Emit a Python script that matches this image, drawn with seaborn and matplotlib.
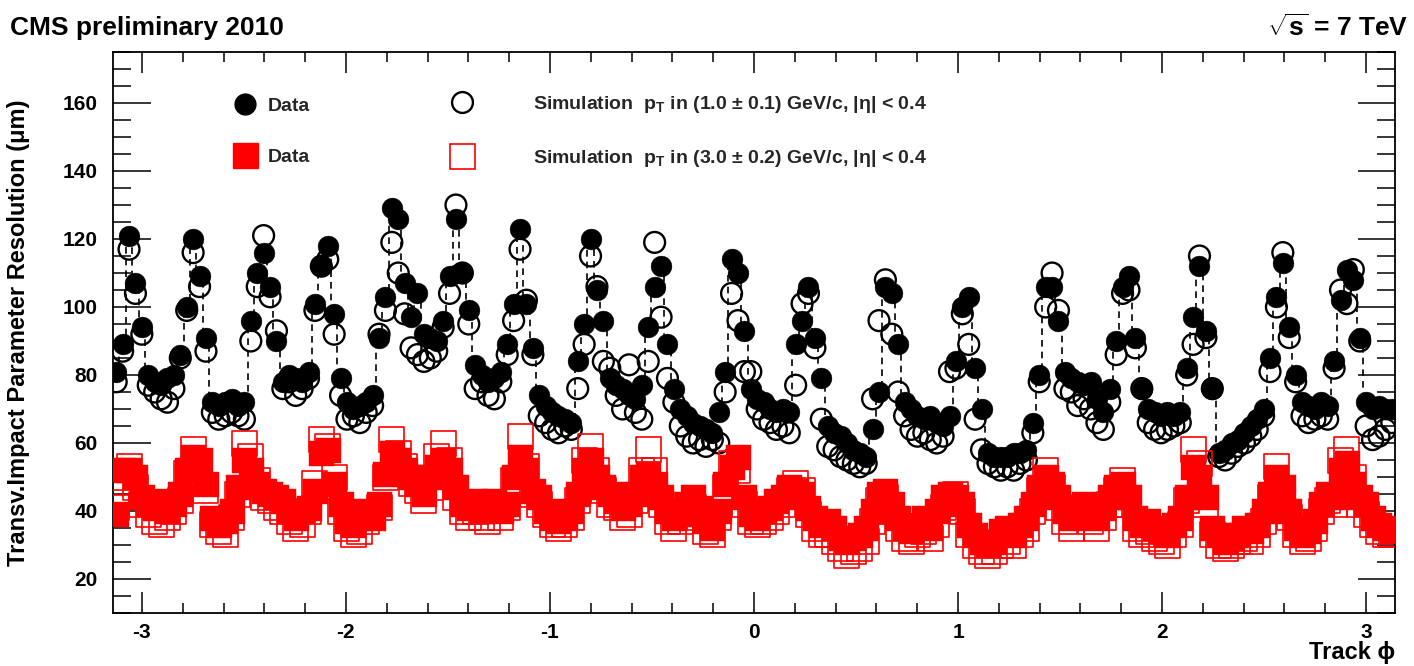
import numpy as np
import pandas as pd
import matplotlib
matplotlib.use("Agg")
import matplotlib.pyplot as plt
import seaborn as sns
from matplotlib.lines import Line2D
from matplotlib.ticker import MultipleLocator

# Transverse impact parameter resolution (um) in 200 bins of track phi
res_data_pt1 = [
    81, 89, 121, 107, 94, 80, 78, 77, 79, 80,
    86, 100, 120, 109, 91, 72, 71, 72, 73, 71,
    72, 96, 110, 116, 106, 90, 78, 80, 79, 78,
    81, 101, 112, 118, 98, 79, 72, 70, 71, 72,
    74, 91, 103, 129, 126, 107, 97, 104, 92, 91,
    90, 96, 109, 126, 110, 99, 83, 80, 78, 79,
    81, 89, 101, 123, 101, 88, 74, 71, 69, 68,
    67, 66, 84, 95, 120, 105, 96, 79, 77, 76,
    74, 73, 77, 94, 106, 112, 89, 76, 70, 68,
    66, 65, 64, 63, 69, 81, 114, 110, 93, 76,
    73, 72, 70, 69, 70, 69, 89, 96, 106, 91,
    79, 65, 63, 62, 60, 58, 57, 56, 64, 75,
    106, 104, 89, 72, 70, 68, 67, 68, 66, 65,
    68, 84, 100, 103, 82, 70, 57, 56, 56, 56,
    57, 57, 58, 66, 80, 106, 106, 96, 81, 79,
    78, 77, 78, 73, 69, 76, 90, 106, 109, 91,
    76, 70, 69, 68, 69, 68, 69, 82, 97, 112,
    93, 76, 57, 58, 60, 61, 63, 65, 67, 70,
    85, 103, 113, 94, 80, 72, 71, 70, 72, 71,
    84, 102, 111, 108, 91, 72, 70, 71, 70, 70,
]

res_sim_pt1 = [
    78, 87, 117, 104, 92, 77, 75, 73, 72, 76,
    85, 99, 116, 106, 87, 69, 67, 68, 69, 68,
    67, 90, 106, 121, 103, 93, 76, 78, 74, 76,
    79, 99, 112, 114, 92, 74, 67, 68, 66, 69,
    71, 92, 99, 119, 110, 98, 88, 86, 84, 85,
    87, 94, 104, 130, 110, 95, 76, 78, 74, 73,
    78, 86, 96, 117, 102, 86, 68, 66, 64, 63,
    65, 64, 76, 89, 115, 106, 84, 82, 74, 70,
    83, 69, 67, 84, 119, 97, 79, 72, 65, 62,
    60, 61, 59, 61, 60, 75, 104, 96, 81, 81,
    70, 67, 66, 64, 65, 63, 77, 101, 104, 88,
    67, 59, 58, 56, 55, 54, 53, 54, 73, 96,
    108, 92, 75, 68, 64, 62, 63, 61, 60, 62,
    81, 82, 98, 89, 67, 58, 54, 53, 52, 53,
    52, 54, 55, 63, 78, 100, 110, 99, 76, 75,
    71, 73, 70, 66, 64, 72, 86, 104, 105, 88,
    76, 66, 64, 63, 64, 65, 66, 80, 89, 115,
    91, 76, 56, 55, 57, 59, 60, 62, 64, 68,
    81, 100, 116, 91, 78, 68, 66, 67, 68, 67,
    82, 105, 101, 111, 90, 65, 61, 62, 64, 66,
]

res_data_pt3 = [
    39, 52, 52, 50, 44, 42, 41, 43, 40, 42,
    45, 52, 56, 55, 48, 38, 36, 37, 40, 47,
    55, 52, 48, 46, 45, 44, 43, 40, 38, 40,
    41, 46, 57, 58, 48, 42, 37, 36, 38, 40,
    38, 42, 51, 57, 55, 52, 50, 48, 45, 50,
    53, 55, 52, 47, 42, 41, 43, 40, 41, 43,
    40, 42, 50, 56, 52, 46, 44, 40, 38, 37,
    38, 40, 45, 52, 55, 50, 47, 45, 43, 41,
    42, 45, 50, 51, 48, 44, 40, 38, 39, 42,
    44, 41, 37, 35, 40, 48, 53, 56, 44, 39,
    38, 40, 41, 43, 44, 47, 46, 45, 41, 38,
    36, 37, 35, 32, 31, 32, 33, 35, 40, 45,
    46, 42, 38, 35, 34, 36, 38, 35, 40, 44,
    45, 44, 42, 36, 33, 31, 30, 31, 34, 35,
    33, 36, 38, 42, 47, 50, 48, 44, 40, 38,
    41, 42, 40, 38, 41, 44, 47, 48, 44, 38,
    36, 37, 35, 34, 33, 36, 38, 44, 53, 50,
    44, 35, 33, 31, 32, 33, 35, 34, 36, 40,
    45, 50, 47, 40, 35, 33, 34, 37, 42, 45,
    44, 52, 54, 48, 44, 42, 38, 36, 35, 34,
]

res_sim_pt3 = [
    41, 50, 53, 47, 42, 39, 37, 36, 38, 40,
    43, 51, 58, 53, 46, 36, 34, 33, 38, 45,
    60, 56, 49, 44, 43, 41, 40, 37, 35, 36,
    40, 48, 61, 59, 50, 40, 35, 33, 34, 37,
    39, 41, 50, 61, 57, 53, 48, 46, 43, 47,
    56, 60, 55, 44, 40, 38, 40, 38, 37, 41,
    38, 41, 49, 62, 53, 45, 42, 39, 36, 35,
    36, 38, 43, 55, 59, 52, 46, 42, 41, 38,
    39, 43, 52, 58, 52, 42, 37, 35, 37, 40,
    41, 38, 34, 33, 38, 47, 54, 52, 42, 37,
    36, 37, 38, 40, 42, 46, 48, 46, 39, 35,
    33, 33, 31, 29, 27, 28, 29, 31, 37, 43,
    44, 40, 35, 32, 31, 33, 34, 32, 36, 41,
    43, 45, 40, 33, 30, 28, 27, 28, 30, 31,
    30, 33, 35, 40, 46, 52, 47, 41, 37, 35,
    38, 39, 37, 35, 38, 42, 46, 49, 42, 35,
    33, 34, 32, 31, 30, 33, 36, 43, 58, 54,
    42, 33, 30, 29, 30, 31, 32, 31, 33, 37,
    44, 53, 46, 38, 33, 31, 32, 35, 40, 43,
    42, 55, 58, 50, 42, 39, 36, 34, 33, 33,
]

x_major_ticks = [-3, -2, -1, 0, 1, 2, 3]
y_major_ticks = [20, 40, 60, 80, 100, 120, 140, 160]

n_bins = len(res_data_pt1)
edges = np.linspace(-np.pi, np.pi, n_bins + 1)
phi = 0.5 * (edges[:-1] + edges[1:])

df = pd.DataFrame({
    "phi": phi,
    "data_pt1": res_data_pt1,
    "sim_pt1": res_sim_pt1,
    "data_pt3": res_data_pt3,
    "sim_pt3": res_sim_pt3,
})

sns.set_theme(style="ticks")
plt.rcParams["font.family"] = ["Liberation Sans", "DejaVu Sans"]
plt.rcParams["font.weight"] = "bold"
plt.rcParams["mathtext.fontset"] = "custom"
plt.rcParams["mathtext.rm"] = "Liberation Sans"
plt.rcParams["mathtext.it"] = "Liberation Sans:italic"
plt.rcParams["mathtext.bf"] = "Liberation Sans:bold"

W, H = 1414, 666
fig = plt.figure(figsize=(W / 100, H / 100), dpi=100)
fig.patch.set_facecolor("white")
ax = fig.add_axes([113 / W, 1 - 613 / H, 1282 / W, 561 / H])
ax.set_facecolor("white")

# dashed step outline of the 1 GeV data profile
sns.lineplot(data=df, x="phi", y="data_pt1", ax=ax, color="black", lw=1.2,
             linestyle=(0, (4, 3)), drawstyle="steps-mid", estimator=None,
             sort=True, zorder=1)

circ = 15.0
sq = 18.0
sns.scatterplot(data=df, x="phi", y="sim_pt1", ax=ax, marker="o", s=circ ** 2,
                facecolor="none", edgecolor="black", linewidth=1.7, zorder=3)
sns.scatterplot(data=df, x="phi", y="data_pt1", ax=ax, marker="o", s=circ ** 2,
                color="black", edgecolor="black", linewidth=0.3, zorder=4)
sns.scatterplot(data=df, x="phi", y="data_pt3", ax=ax, marker="s", s=sq ** 2,
                color="#ff0000", edgecolor="#ff0000", linewidth=0.3, zorder=5)
sns.scatterplot(data=df, x="phi", y="sim_pt3", ax=ax, marker="s", s=sq ** 2,
                facecolor="none", edgecolor="#ff0000", linewidth=1.2, zorder=6)

ax.set_xlim(-np.pi, np.pi)
ax.set_ylim(10, 175)
ax.set_xticks(x_major_ticks)
ax.set_yticks(y_major_ticks)
ax.set_xticklabels([str(t) for t in x_major_ticks])
ax.set_yticklabels([str(t) for t in y_major_ticks])
ax.xaxis.set_minor_locator(MultipleLocator(0.2))
ax.yaxis.set_minor_locator(MultipleLocator(5))

ax.tick_params(which="both", direction="in", top=True, right=True,
               colors="black", width=1.1)
ax.tick_params(axis="y", which="major", length=27, pad=11, labelsize=15)
ax.tick_params(axis="y", which="minor", length=13)
ax.tick_params(axis="x", which="major", length=15, pad=7, labelsize=15)
ax.tick_params(axis="x", which="minor", length=7.5)
for lab in ax.get_xticklabels() + ax.get_yticklabels():
    lab.set_fontweight("bold")
for sp in ax.spines.values():
    sp.set_linewidth(1.3)
    sp.set_color("black")

ax.set_ylabel("Transv.Impact Parameter Resolution (\u03bcm)", fontsize=17,
              fontweight="bold", color="black")
ax.yaxis.set_label_coords(-(113 - 30) / 1282, 0.5)
ax.set_xlabel("Track \u03d5", fontsize=17, fontweight="bold", color="black",
              loc="right")
ax.xaxis.set_label_coords(1.0, -(641 - 613) / 561)

fig.text(10 / W, 1 - 28 / H, "CMS preliminary 2010", fontsize=19,
         fontweight="bold", ha="left", va="center", color="black")
fig.text(1408 / W, 1 - 28 / H, "$\\sqrt{\\mathbf{s}}$ = 7 TeV", fontsize=19,
         fontweight="bold", ha="right", va="center", color="black")

# legend: data keys in one column, simulation keys in another
leg_fs = 14
h_data1 = Line2D([], [], ls="none", marker="o", markersize=circ,
                 color="black")
h_data3 = Line2D([], [], ls="none", marker="s", markersize=sq,
                 color="#ff0000")
h_sim1 = Line2D([], [], ls="none", marker="o", markersize=circ,
                markerfacecolor="none", markeredgecolor="black",
                markeredgewidth=1.7)
h_sim3 = Line2D([], [], ls="none", marker="s", markersize=sq,
                markerfacecolor="none", markeredgecolor="#ff0000",
                markeredgewidth=1.2)
prop = {"size": leg_fs, "weight": "bold"}
fs_px = leg_fs * 100 / 72
y_mid = (613 - 131.5) / 561
leg1 = ax.legend([h_data1, h_data3], ["Data", "Data"], loc="center left",
                 bbox_to_anchor=((245 - fs_px / 2 - 113) / 1282, y_mid),
                 frameon=False, prop=prop, handlelength=1.0,
                 handletextpad=(268 - 245 - fs_px / 2) / fs_px,
                 labelspacing=1.7, borderpad=0, borderaxespad=0)
ax.add_artist(leg1)
sim_labels = [
    "Simulation  $\\mathbf{p}_{\\mathbf{T}}$ in (1.0 \u00b1 0.1) GeV/c, |\u03b7| < 0.4",
    "Simulation  $\\mathbf{p}_{\\mathbf{T}}$ in (3.0 \u00b1 0.2) GeV/c, |\u03b7| < 0.4",
]
leg2 = ax.legend([h_sim1, h_sim3], sim_labels, loc="center left",
                 bbox_to_anchor=((462 - fs_px / 2 - 113) / 1282, y_mid),
                 frameon=False, prop=prop, handlelength=1.0,
                 handletextpad=(533 - 462 - fs_px / 2) / fs_px,
                 labelspacing=1.7, borderpad=0, borderaxespad=0)

fig.savefig("out.png", dpi=100, facecolor="white")
